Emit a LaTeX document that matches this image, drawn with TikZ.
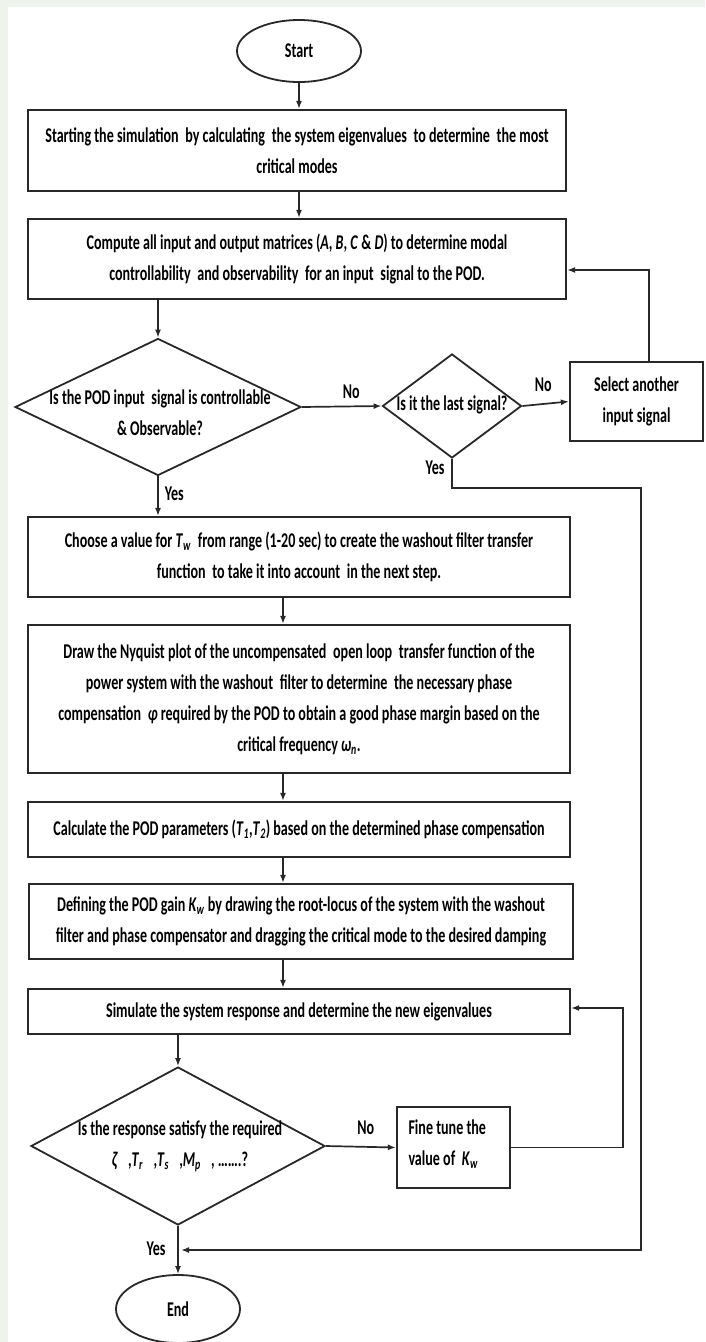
\documentclass[tikz,border=0pt]{standalone}
\usepackage{fontspec}
\setmainfont{Carlito}[FakeStretch=0.67]
\usetikzlibrary{shapes.geometric,arrows.meta}
\definecolor{edge}{RGB}{40,40,40}
\definecolor{tint}{RGB}{238,244,236}
\newcommand{\mv}[2]{\textit{#1}\textsubscript{\textit{#2}}}
\tikzset{
  box/.style={draw=edge,line width=2.2pt,fill=white,rectangle,inner sep=0pt,align=center},
  dia/.style={draw=edge,line width=1.8pt,fill=white,diamond,inner sep=0pt},
  term/.style={draw=edge,line width=1.8pt,fill=white,ellipse,inner sep=0pt},
  txt/.style={font=\fontsize{21}{31}\selectfont\bfseries,align=center},
  lbl/.style={font=\fontsize{21}{25}\selectfont\bfseries,inner sep=0pt},
  conn/.style={draw=edge,line width=1.7pt,-{Latex[length=8pt,width=6pt]}},
  plain/.style={draw=edge,line width=1.7pt}
}
\begin{document}
\begin{tikzpicture}[x=1pt,y=-1pt]
\useasboundingbox (0,0) rectangle (705,1342);
\fill[tint] (0,0) rectangle (705,1342);
\fill[white] (8,7) rectangle (705,1342);

% nodes
\node[term,minimum width=124pt,minimum height=62pt,txt] (start) at (299,51) {Start};
\node[box,txt,minimum width=538pt,minimum height=81pt] (b1) at (297,150.5) {Starting the simulation\, by calculating\, the system eigenvalues\, to determine\, the most\\critical modes};
\node[box,txt,minimum width=538pt,minimum height=80pt] (b2) at (297,259) {Compute all input and output matrices (\textit{A}, \textit{B}, \textit{C} \& \textit{D}) to determine modal\\controllability\, and observability\, for an input\, signal to the POD.};
\node[dia,minimum width=286pt,minimum height=137pt] (d1) at (158,407) {};
\node[txt] (d1t) at (160,413) {Is the POD input\, signal is controllable\\\& Observable?};
\node[dia,minimum width=139pt,minimum height=104pt] (d2) at (452,406) {};
\node[txt] (d2t) at (452,405) {Is it the last signal?};
\node[box,txt,minimum width=133pt,minimum height=79pt] (sel) at (636.5,401.5) {Select another\\input signal};
\node[box,txt,minimum width=542pt,minimum height=80pt] (b3) at (299,557) {Choose a value for \mv{T}{w}\, from range (1-20 sec) to create the washout filter transfer\\function\, to take it into account\, in the next step.};
\node[box,txt,minimum width=542pt,minimum height=148pt] (b4) at (299,699) {Draw the Nyquist plot of the uncompensated\, open loop\, transfer function of the\\power system with the washout\, filter to determine\, the necessary phase\\compensation\, \textit{φ} required by the POD to obtain a good phase margin based on the\\critical frequency \mv{ω}{n}.};
\node[box,txt,minimum width=542pt,minimum height=55pt] (b5) at (299,829.5) {Calculate the POD parameters (\mv{T}{1},\mv{T}{2}) based on the determined phase compensation};
\node[box,txt,minimum width=544pt,minimum height=75pt] (b6) at (301,921.5) {Defining the POD gain \mv{K}{w} by drawing the root-locus of the system with the washout\\filter and phase compensator and dragging the critical mode to the desired damping};
\node[box,txt,minimum width=542pt,minimum height=45pt] (b7) at (299,1011.5) {Simulate the system response and determine the new eigenvalues};
\node[dia,minimum width=294pt,minimum height=158pt] (d3) at (178,1146) {};
\node[txt] (d3t) at (180,1146) {Is the response satisfy the required\\\textit{ζ}\,\, ,\mv{T}{r}\,\, ,\mv{T}{s}\,\, ,\mv{M}{p}\,\, , \dots\dots.?};
\node[box,minimum width=113pt,minimum height=81pt] (b8) at (453.5,1147.5) {};
\node[txt,align=left,anchor=west] (b8t) at (405,1144) {Fine tune the\\value of\, \mv{K}{w}};
\node[term,minimum width=124pt,minimum height=68pt,txt] (end) at (178,1309) {End};

% helper coordinates
\coordinate (cA) at (649,270);
\coordinate (cB) at (641,488);
\coordinate (cJ) at (181,1250);
\coordinate (cC) at (623,1008);

% connectors
\draw[conn] (start) -- (b1.north -| start);
\draw[conn] (b1.south -| start) -- (b2.north -| start);
\draw[conn] (b2.south -| d1) -- (d1.north);
\draw[conn] (d1.east) -- node[lbl,above=7pt,pos=0.62] (no1) {No} (d2.west);
\draw[conn] (d2.east) -- node[lbl,above=11pt,pos=0.45] (no2) {No} (sel.west);
\draw[conn] (sel.north -| cA) -- (cA) -- (b2.east |- cA);
\draw[conn] (d2.south) |- (cB) |- (cJ);
\node[lbl] (yes2) at (435,468) {Yes};
\draw[conn] (d1.south) -- node[lbl,right=6pt,pos=0.45] (yes1) {Yes} (b3.north -| d1);
\draw[conn] (b3.south -| 283,0) -- (b4.north -| 283,0);
\draw[conn] (b4.south -| 283,0) -- (b5.north -| 283,0);
\draw[conn] (b5.south -| 283,0) -- (b6.north -| 283,0);
\draw[conn] (b6.south -| 283,0) -- (b7.north -| 283,0);
\draw[conn] (b7.south -| d3) -- (d3.north);
\draw[conn] (d3.east) -- node[lbl,above=11pt,pos=0.57] (no3) {No} (b8.west);
\draw[conn] (b8.east) -| (cC) -- (b7.east |- cC);
\draw[conn] (d3.south) -- (end.north);
\node[lbl] (yes3) at (156,1249) {Yes};
\end{tikzpicture}
\end{document}
